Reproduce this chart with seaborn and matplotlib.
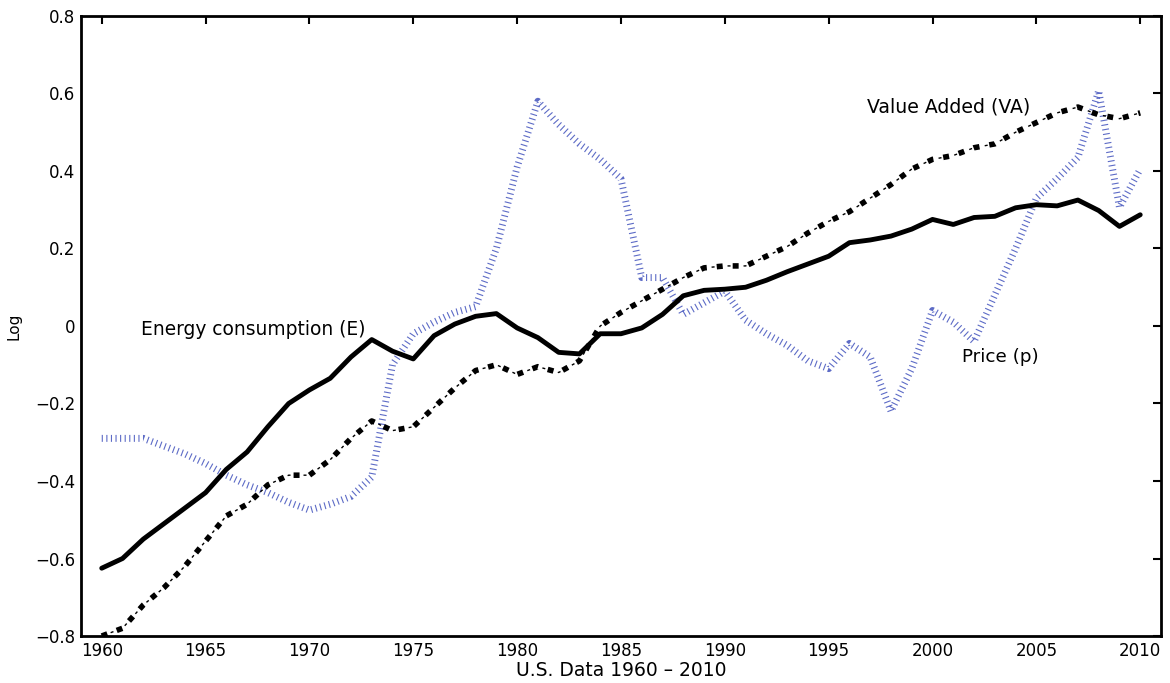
import matplotlib
matplotlib.use("Agg")
import matplotlib.pyplot as plt
import pandas as pd
import seaborn as sns

years = list(range(1960, 2011))

energy = [-0.625, -0.60, -0.55, -0.51, -0.47, -0.43, -0.37, -0.325, -0.26, -0.20,
          -0.165, -0.135, -0.08, -0.035, -0.065, -0.085, -0.025, 0.005, 0.025, 0.032,
          -0.005, -0.03, -0.068, -0.072, -0.02, -0.02, -0.005, 0.03, 0.078, 0.092,
          0.095, 0.10, 0.118, 0.14, 0.16, 0.18, 0.215, 0.222, 0.232, 0.25,
          0.275, 0.262, 0.28, 0.283, 0.305, 0.313, 0.31, 0.325, 0.298, 0.257,
          0.287]

value_added = [-0.80, -0.78, -0.72, -0.675, -0.62, -0.555, -0.49, -0.46, -0.41, -0.385,
               -0.385, -0.345, -0.29, -0.245, -0.27, -0.26, -0.21, -0.16, -0.115, -0.10,
               -0.125, -0.105, -0.12, -0.09, 0.0, 0.035, 0.065, 0.095, 0.125, 0.15,
               0.155, 0.155, 0.18, 0.205, 0.24, 0.27, 0.295, 0.33, 0.365, 0.405,
               0.43, 0.44, 0.46, 0.47, 0.50, 0.525, 0.55, 0.565, 0.545, 0.535,
               0.55]

price = [-0.29, -0.29, -0.29, -0.31, -0.33, -0.355, -0.385, -0.41, -0.43, -0.455,
         -0.475, -0.46, -0.44, -0.39, -0.10, -0.02, 0.01, 0.035, 0.05, 0.20,
         0.41, 0.58, 0.52, 0.47, 0.43, 0.38, 0.125, 0.125, 0.03, 0.06,
         0.09, 0.015, -0.02, -0.05, -0.09, -0.11, -0.045, -0.08, -0.22, -0.11,
         0.04, 0.01, -0.04, 0.08, 0.20, 0.33, 0.38, 0.435, 0.607, 0.306,
         0.405]

x_ticks = list(range(1960, 2011, 5))
y_ticks = [-0.8, -0.6, -0.4, -0.2, 0.0, 0.2, 0.4, 0.6, 0.8]
y_ticklabels = ["\u22120.8", "\u22120.6", "\u22120.4", "\u22120.2", "0", "0.2", "0.4", "0.6", "0.8"]

df = pd.DataFrame({"Year": years, "E": energy, "VA": value_added, "p": price})

sns.set_style("white")
plt.rcParams["font.family"] = ["DejaVu Sans"]
plt.rcParams["lines.scale_dashes"] = False
for k in ["text.color", "axes.labelcolor", "xtick.color", "ytick.color"]:
    plt.rcParams[k] = "black"

fig = plt.figure(figsize=(11.7, 6.83), dpi=100)
ax = fig.add_axes([0.0692, 0.0688, 0.9231, 0.9078])

# price: fine blue dotted line
sns.lineplot(data=df, x="Year", y="p", ax=ax, color="#3446b8", linewidth=5,
             linestyle=(0, (0.8, 2.5)), dash_capstyle="butt", alpha=0.8)
# value added: thick dashes plus thin dots in between
sns.lineplot(data=df, x="Year", y="VA", ax=ax, color="black", linewidth=4,
             linestyle=(0, (4.3, 7.2)), dash_capstyle="butt")
sns.lineplot(data=df, x="Year", y="VA", ax=ax, color="black", linewidth=1,
             linestyle=(4.68, (2.16, 9.36)), dash_capstyle="butt")
# energy consumption: solid
sns.lineplot(data=df, x="Year", y="E", ax=ax, color="black", linewidth=3.5)

ax.text(1961.9, -0.009, "Energy consumption (E)", fontsize=13.4, ha="left", va="center")
ax.text(1996.85, 0.564, "Value Added (VA)", fontsize=13.6, ha="left", va="center")
ax.text(2001.4, -0.08, "Price (p)", fontsize=13.2, ha="left", va="center")

ax.set_xlim(1959, 2011)
ax.set_ylim(-0.8, 0.8)
ax.set_xticks(x_ticks)
ax.set_yticks(y_ticks)
ax.set_yticklabels(y_ticklabels)
ax.tick_params(direction="in", length=6, width=1.5, labelsize=12,
               top=True, right=True, labeltop=False, labelright=False, pad=4)
for s in ax.spines.values():
    s.set_linewidth(2)
    s.set_color("black")

ax.set_xlabel("U.S. Data 1960 \u2013 2010", fontsize=13.5, labelpad=1)
ax.set_ylabel("Log", fontsize=11, labelpad=10)

fig.savefig("out.png", dpi=100)
